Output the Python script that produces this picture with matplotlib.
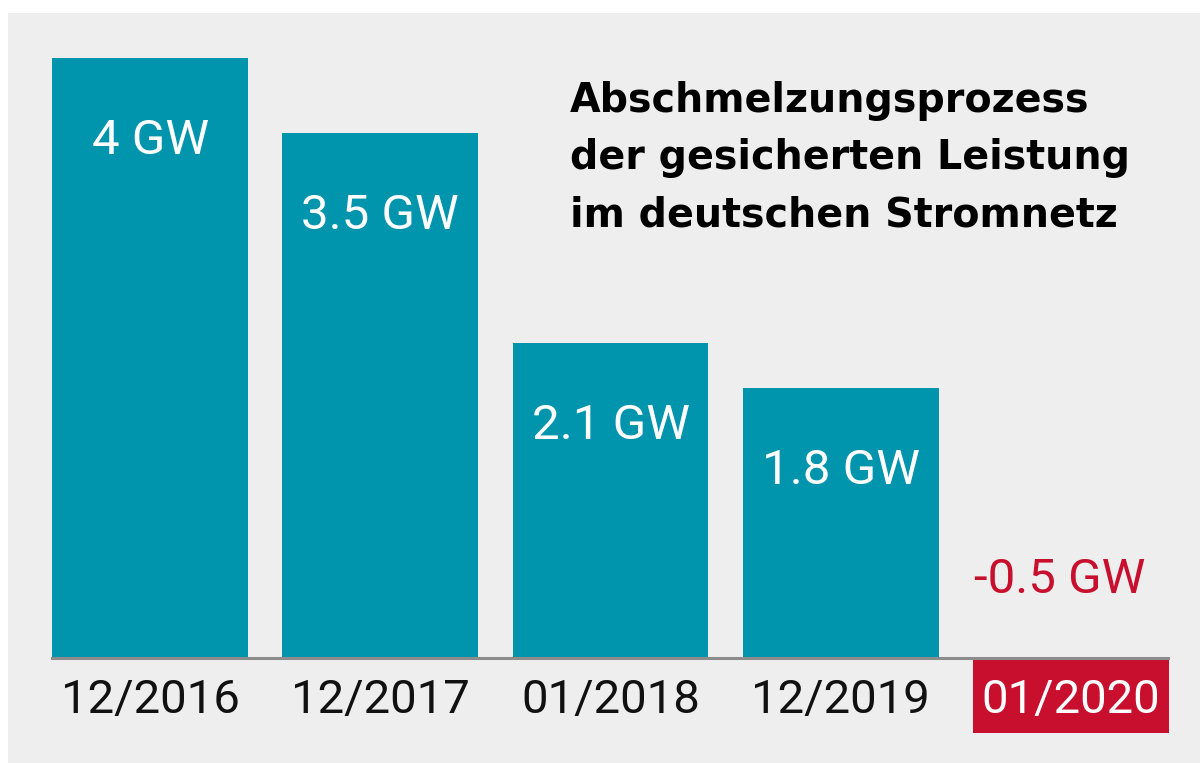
import matplotlib.pyplot as plt
from matplotlib.patches import Rectangle

dates = ["12/2016", "12/2017", "01/2018", "12/2019", "01/2020"]
capacity_gw = [4.0, 3.5, 2.1, 1.8, -0.5]
value_labels = ["4 GW", "3.5 GW", "2.1 GW", "1.8 GW", "-0.5 GW"]
title = "Abschmelzungsprozess\nder gesicherten Leistung\nim deutschen Stromnetz"

teal = "#0094ad"
red = "#c8102e"

W, H = 1200, 763
fig = plt.figure(figsize=(W / 100, H / 100), dpi=100, facecolor="white")

# grey panel behind the chart
fig.patches.append(Rectangle((8 / W, 0), 1, 1 - 13 / H, transform=fig.transFigure,
                             facecolor="#eeeeee", edgecolor="none", zorder=-10))

# pitch 230 px per category, 150 px per GW, baseline 105 px above bottom
ax = fig.add_axes([35 / W, 0, 1151 / W, 1])
ax.set_zorder(1)
ax.set_xlim(-0.5, 4.5)
ax.set_ylim(-0.7, 4.3867)
ax.set_facecolor("none")
for s in ax.spines.values():
    s.set_visible(False)
ax.set_yticks([])
ax.set_xticks([])

x = list(range(len(dates)))
colors = [teal if v > 0 else red for v in capacity_gw]
ax.bar(x, capacity_gw, width=0.851, color=colors, zorder=2)
ax.axhline(0, xmin=17 / 1151, xmax=1133 / 1151, color="#8c8c8c", lw=2.2, zorder=3)

font = "Roboto"
for xi, v, lab in zip(x, capacity_gw, value_labels):
    if v > 0:
        ax.text(xi, v - 0.55, lab, ha="center", va="center", color="white",
                fontsize=35.5, family=font, zorder=4)
    else:
        ax.text(xi - 0.05, 0.52, lab, ha="center", va="center", color=red,
                fontsize=35.5, family=font, zorder=4)

for xi, d, v in zip(x, dates, capacity_gw):
    ax.text(xi, -0.28, d, ha="center", va="center",
            color="#111111" if v > 0 else "white",
            fontsize=34, family=font, zorder=5)

fig.text(570 / W, 1 - 81 / H, title, ha="left", va="top", fontsize=28.5,
         fontweight="bold", family="DejaVu Sans", linespacing=1.55, color="black")

fig.savefig("out.png", dpi=100, facecolor="white")
